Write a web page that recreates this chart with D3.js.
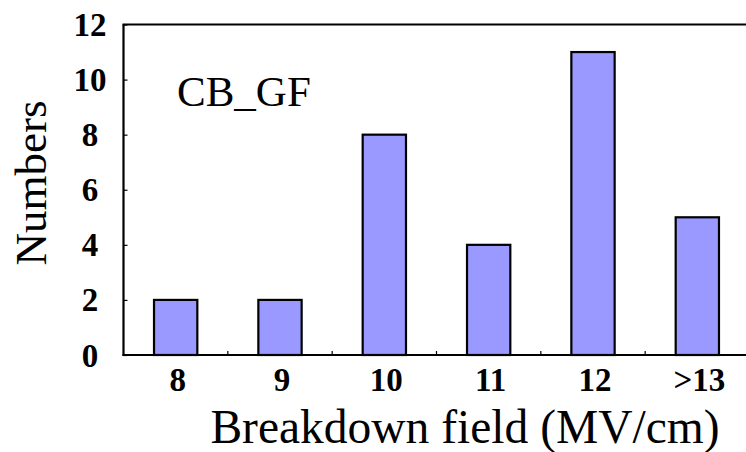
<!DOCTYPE html>
<html>
<head>
<meta charset="utf-8">
<script src="https://cdn.jsdelivr.net/npm/d3@7/dist/d3.min.js"></script>
<style>
  html, body { margin: 0; padding: 0; background: #fff; }
  svg { display: block; }
</style>
</head>
<body>
<svg id="chart" width="746" height="452"></svg>
<script>
// Breakdown-field histogram for the CB_GF sample
const categories = ["8", "9", "10", "11", "12", ">13"];
const counts = [2, 2, 8, 4, 11, 5];
const yTicks = [0, 2, 4, 6, 8, 10, 12];
const sampleLabel = "CB_GF";
const xTitle = "Breakdown field (MV/cm)";
const yTitle = "Numbers";

const plot = { left: 123.5, right: 749.5, top: 24.5, bottom: 355 };
const serif = "'Liberation Serif', 'Times New Roman', serif";

const svg = d3.select("#chart");

const x = d3.scaleBand()
  .domain(categories)
  .range([plot.left, plot.right])
  .paddingInner(0)
  .paddingOuter(0);

const y = d3.scaleLinear()
  .domain([0, 12])
  .range([plot.bottom, plot.top]);

const barFrac = 0.415;
const barW = x.bandwidth() * barFrac;

// bars
svg.append("g")
  .selectAll("rect")
  .data(categories.map((c, i) => ({ c, v: counts[i] })))
  .join("rect")
  .attr("x", d => x(d.c) + (x.bandwidth() - barW) / 2)
  .attr("y", d => y(d.v))
  .attr("width", barW)
  .attr("height", d => y(0) - y(d.v))
  .attr("fill", "#9999ff")
  .attr("stroke", "#000")
  .attr("stroke-width", 2.2);

// frame lines: left axis, bottom axis, top edge
const frame = svg.append("g").attr("stroke", "#000").attr("stroke-width", 2.2).attr("fill", "none");
frame.append("line").attr("x1", plot.left).attr("x2", plot.left).attr("y1", plot.top).attr("y2", plot.bottom + 1);
frame.append("line").attr("x1", plot.left - 1).attr("x2", plot.right).attr("y1", plot.bottom).attr("y2", plot.bottom);
frame.append("line").attr("x1", plot.left - 1).attr("x2", plot.right).attr("y1", plot.top).attr("y2", plot.top);

// y axis ticks (inside) and labels
const yAxis = d3.axisRight(y).tickValues(yTicks).tickSize(4).tickFormat("");
const gy = svg.append("g").attr("transform", `translate(${plot.left},0)`).call(yAxis);
gy.select(".domain").remove();
gy.selectAll(".tick line").attr("stroke", "#000").attr("stroke-width", 1.2);

svg.append("g")
  .selectAll("text")
  .data(yTicks)
  .join("text")
  .attr("x", 90)
  .attr("y", d => y(d))
  .attr("dy", "0.35em")
  .attr("text-anchor", "middle")
  .attr("font-family", serif)
  .attr("font-weight", "bold")
  .attr("font-size", 33)
  .text(d => d);

// x axis: small upward ticks at category boundaries
const boundaries = categories.slice(1).map(c => x(c));
svg.append("g")
  .selectAll("line")
  .data(boundaries)
  .join("line")
  .attr("x1", d => d).attr("x2", d => d)
  .attr("y1", plot.bottom).attr("y2", plot.bottom - 4)
  .attr("stroke", "#000").attr("stroke-width", 1.2);

svg.append("g")
  .selectAll("text")
  .data(categories)
  .join("text")
  .attr("x", d => x(d) + x.bandwidth() / 2 + 2)
  .attr("y", 391)
  .attr("text-anchor", "middle")
  .attr("font-family", serif)
  .attr("font-weight", "bold")
  .attr("font-size", 33)
  .text(d => d);

// titles
svg.append("text")
  .attr("x", 465)
  .attr("y", 443)
  .attr("text-anchor", "middle")
  .attr("font-family", serif)
  .attr("font-size", 47.5)
  .text(xTitle);

svg.append("text")
  .attr("transform", "translate(46,183) rotate(-90)")
  .attr("text-anchor", "middle")
  .attr("font-family", serif)
  .attr("font-size", 45)
  .text(yTitle);

svg.append("text")
  .attr("x", 177)
  .attr("y", 106)
  .attr("font-family", serif)
  .attr("font-size", 43)
  .text(sampleLabel);
</script>
</body>
</html>
